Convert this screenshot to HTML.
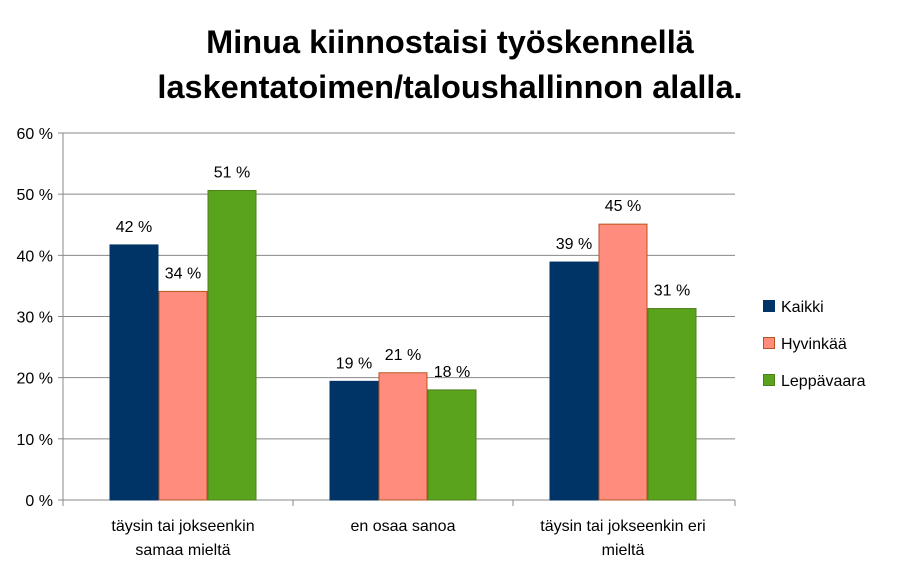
<!DOCTYPE html>
<html><head><meta charset="utf-8"><style>
body{margin:0;background:#fff;width:901px;height:578px;overflow:hidden;font-family:"Liberation Sans",sans-serif}
</style></head><body>
<svg id="c" width="901" height="578" style="font-family:'Liberation Sans',sans-serif">
<text x="450" y="53" text-anchor="middle" font-size="32.5" font-weight="bold">Minua kiinnostaisi työskennellä</text>
<text x="450" y="98" text-anchor="middle" font-size="32.5" font-weight="bold">laskentatoimen/taloushallinnon alalla.</text>
<g id="grid"></g><g id="bars"></g><g id="labels"></g><g id="axes"></g><g id="legend"></g>
</svg>
<script>
const categories=[["täysin tai jokseenkin","samaa mieltä"],["en osaa sanoa"],["täysin tai jokseenkin eri","mieltä"]];
const seriesNames=["Kaikki","Hyvinkää","Leppävaara"];
const kaikki=[41.7,19.4,38.9];
const hyvinkaa=[34.1,20.8,45.1];
const leppavaara=[50.6,18.0,31.3];
const valueLabels=[["42 %","19 %","39 %"],["34 %","21 %","45 %"],["51 %","18 %","31 %"]];
const ticks=[0,10,20,30,40,50,60];
const series=[kaikki,hyvinkaa,leppavaara];
const fills=["#003366","#FF8C7C","#5AA31C"],strokes=["#003366","#B5561E","#4E7F1A"];
const NS="http://www.w3.org/2000/svg";
const X0=63,X1=735,Y0=500,Y1=133;
const y=v=>Y0-(v/60)*(Y0-Y1);
const gw=220,firstCenter=183,bw=49;
const xc=i=>firstCenter+gw*i;
function mk(t,a,p){const e=document.createElementNS(NS,t);for(const k in a)e.setAttribute(k,a[k]);p.appendChild(e);return e;}
const grid=document.getElementById('grid'),axes=document.getElementById('axes'),bars=document.getElementById('bars'),labels=document.getElementById('labels'),legend=document.getElementById('legend');
ticks.forEach(t=>{
 const l=mk('line',{x1:X0,x2:X1,y1:y(t),y2:y(t),stroke:'#888','stroke-width':1},grid);
 
 
 const tx=mk('text',{x:53,y:y(t)+6,'text-anchor':'end','font-size':16},axes);
 tx.textContent=t+' %';
 
 
 mk('line',{x1:X0-5,x2:X0,y1:y(t),y2:y(t),stroke:'#888'},axes);
});
mk('line',{x1:X0,x2:X0,y1:Y1,y2:Y0,stroke:'#888'},axes);
[X0,xc(0)+gw/2,xc(1)+gw/2,X1].forEach(tx=>mk('line',{x1:tx,x2:tx,y1:Y0,y2:Y0+6,stroke:'#888'},axes));
categories.forEach((c,i)=>{
 const cx=xc(i);
 c.forEach((ln,j)=>{const t=mk('text',{x:cx,y:531+j*24,'text-anchor':'middle','font-size':16},axes);t.textContent=ln;
 
 });
 series.forEach((s,k)=>{
  const bx=cx-1.5*bw+k*bw;
  const r=mk('rect',{x:bx+0.5,y:y(s[i]),width:bw-1,height:Y0-y(s[i]),fill:fills[k],stroke:strokes[k],'stroke-width':1},bars);
  
  
  const t=mk('text',{x:bx+bw/2,y:y(s[i])-13,'text-anchor':'middle','font-size':16},labels);
  t.textContent=valueLabels[k][i];
  
  
 });
});
seriesNames.forEach((n,k)=>{
 const ly=306+k*37;
 const g=mk('g',{},legend);
 
 
 mk('rect',{x:763.5,y:ly-5.5,width:11,height:11,fill:fills[k],stroke:strokes[k]},g);
 const t=mk('text',{x:781,y:ly+6,'font-size':16},g);t.textContent=n;
});
</script>
</body></html>
